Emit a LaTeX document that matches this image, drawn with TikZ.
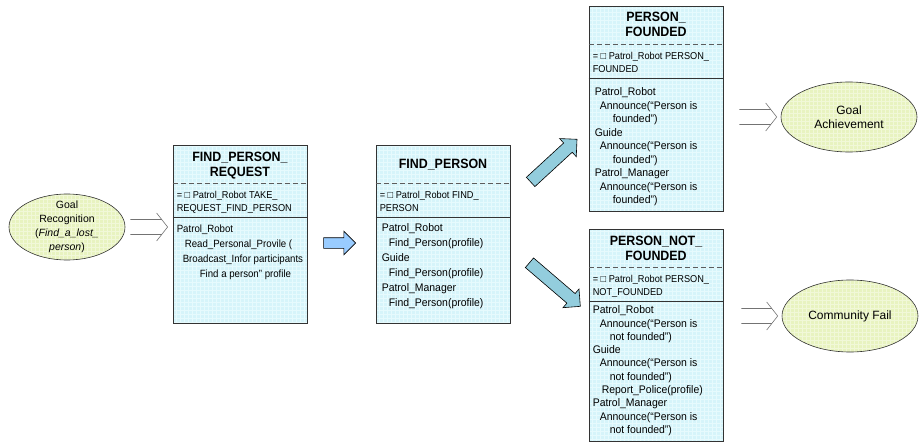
\documentclass[tikz,border=0pt]{standalone}
\usepackage{fontspec}
\setmainfont{Liberation Sans}
\newfontfamily\narrowfont[FakeStretch=0.92]{Liberation Sans}
\newfontfamily\bodyfont[FakeStretch=0.95]{Liberation Sans}
\usepackage{tikz}
\usetikzlibrary{arrows.meta,positioning,calc,shapes.geometric,shapes.arrows}
\definecolor{cellfill}{HTML}{D6F4FA}
\definecolor{cellgrid}{HTML}{E6FAFD}
\definecolor{goalfill}{HTML}{E8F3C0}
\definecolor{goalgrid}{HTML}{F1F8D8}
\definecolor{arrblue}{HTML}{99CCFF}
\definecolor{arrteal}{HTML}{93CDDD}
\definecolor{framegray}{HTML}{333333}
\tikzset{
    state/.style={draw=framegray, fill=cellfill, line width=0.8pt, minimum width=134pt, inner sep=0pt,
        path picture={\draw[cellgrid, line width=0.5pt] (path picture bounding box.south west) grid[step=4pt] (path picture bounding box.north east);}},
    goalnode/.style={ellipse, draw=framegray, fill=goalfill, line width=0.6pt, inner sep=0pt,
        path picture={\draw[goalgrid, line width=0.5pt] (path picture bounding box.south west) grid[step=4pt] (path picture bounding box.north east);}},
    title/.style={font=\narrowfont\fontsize{13.5}{14.5}\selectfont\bfseries, align=center, inner sep=0pt},
    spec/.style={font=\narrowfont\fontsize{10}{13}\selectfont, align=left, anchor=north west, inner sep=0pt},
    body/.style={font=\bodyfont\fontsize{11}{15}\selectfont, align=left, anchor=north west, inner sep=0pt},
    goaltext/.style={font=\fontsize{12}{14}\selectfont, align=center, inner sep=0pt},
    divdash/.style={draw=framegray!80, line width=0.8pt, dash pattern=on 5pt off 3pt},
    divline/.style={draw=framegray, line width=0.6pt},
    blockarr/.style={single arrow, draw=black, line width=0.6pt, inner xsep=0pt, inner ysep=5pt, single arrow head extend=6.5pt},
    hollow/.style={draw=gray!90!black, line width=0.6pt}
}
% open double arrow between two coordinates at the same height
\newcommand{\hollowarr}[2]{%
  \draw[hollow] ($(#1)+(0,-7.5)$) -- ($(#2)+(-6,-7.5)$)
                ($(#1)+(0,7.5)$) -- ($(#2)+(-6,7.5)$)
                ($(#2)+(-11,-14)$) -- (#2) -- ($(#2)+(-11,14)$);}

\begin{document}
\begin{tikzpicture}[x=1pt, y=-1pt]
  \useasboundingbox (0,0) rectangle (922,444);

  % Goal ellipses
  \node[goalnode, minimum width=116pt, minimum height=66pt] (goal) at (67,227) {};
  \node[goaltext, font=\fontsize{10.5}{14}\selectfont] (goal-t) at (goal) {Goal\\Recognition\\(\textit{Find\_a\_lost\_}\\\textit{person})};
  \node[goalnode, minimum width=136pt, minimum height=70pt] (ga) at (849,117) {};
  \node[goaltext] (ga-t) at (ga) {Goal\\Achievement};
  \node[goalnode, minimum width=136pt, minimum height=72pt] (cf) at (850,316) {};
  \node[goaltext] (cf-t) at (cf) {Community Fail};

  % State boxes
  \node[state, minimum height=178pt] (req) at (240,234) {};
  \node[state, minimum height=178pt] (fp) at (443,234) {};
  \node[state, minimum height=205pt] (pf) at (656,108.5) {};
  \node[state, minimum height=212pt] (pnf) at (656,335) {};

  % Dividers
  \foreach \b in {req,fp,pf,pnf} {
    \draw[divdash] ($(\b.north west)+(0,39)$) -- ($(\b.north east)+(0,39)$);
    \draw[divline] ($(\b.north west)+(0,73)$) -- ($(\b.north east)+(0,73)$);
  }

  % FIND_PERSON_REQUEST
  \node[title] (req-t) at ($(req.north)+(0,21)$) {FIND\_PERSON\_\\REQUEST};
  \node[spec] (req-s) at ($(req.north west)+(4,46)$) {= □ Patrol\_Robot TAKE\_\\REQUEST\_FIND\_PERSON};
  \node[body, font=\narrowfont\fontsize{10.5}{15}\selectfont] (req-b) at ($(req.north west)+(4,80)$) {Patrol\_Robot\\\hspace*{8pt}Read\_Personal\_Provile (\\\hspace*{6pt}Broadcast\_Infor participants\\\hspace*{23pt}Find a person” profile};

  % FIND_PERSON
  \node[title] (fp-t) at ($(fp.north)+(0,20)$) {FIND\_PERSON};
  \node[spec] (fp-s) at ($(fp.north west)+(4,46)$) {= □ Patrol\_Robot FIND\_\\PERSON};
  \node[body] (fp-b) at ($(fp.north west)+(6,79)$) {Patrol\_Robot\\\hspace*{7pt}Find\_Person(profile)\\Guide\\\hspace*{7pt}Find\_Person(profile)\\Patrol\_Manager\\\hspace*{7pt}Find\_Person(profile)};

  % PERSON_FOUNDED
  \node[title] (pf-t) at ($(pf.north)+(0,19)$) {PERSON\_\\FOUNDED};
  \node[spec] (pf-s) at ($(pf.north west)+(4,46)$) {= □ Patrol\_Robot PERSON\_\\FOUNDED};
  \node[body, font=\bodyfont\fontsize{11}{13.5}\selectfont] (pf-b) at ($(pf.north west)+(6,82)$) {Patrol\_Robot\\\hspace*{5pt}Announce(“Person is\\\hspace*{18pt}founded”)\\Guide\\\hspace*{5pt}Announce(“Person is\\\hspace*{18pt}founded”)\\Patrol\_Manager\\\hspace*{5pt}Announce(“Person is\\\hspace*{18pt}founded”)};

  % PERSON_NOT_FOUNDED
  \node[title] (pnf-t) at ($(pnf.north)+(0,20)$) {PERSON\_NOT\_\\FOUNDED};
  \node[spec] (pnf-s) at ($(pnf.north west)+(4,46)$) {= □ Patrol\_Robot PERSON\_\\NOT\_FOUNDED};
  \node[body, font=\bodyfont\fontsize{11}{13.3}\selectfont] (pnf-b) at ($(pnf.north west)+(4,77)$) {Patrol\_Robot\\\hspace*{7pt}Announce(“Person is\\\hspace*{17pt}not founded”)\\Guide\\\hspace*{7pt}Announce(“Person is\\\hspace*{17pt}not founded”)\\\hspace*{9pt}Report\_Police(profile)\\Patrol\_Manager\\\hspace*{7pt}Announce(“Person is\\\hspace*{17pt}not founded”)};

  % Block arrows between states
  \coordinate (b1s) at ($(req.east)+(14,9)$);
  \coordinate (b1e) at ($(fp.west)+(-23,9)$);
  \path (b1s) -- (b1e) node[blockarr, fill=arrblue, midway, sloped, minimum height=32pt] (b1) {};
  \coordinate (b2s) at ($(fp.east)+(18,-50)$);
  \coordinate (b2e) at ($(pf.west)+(-14,33)$);
  \path (b2s) -- (b2e) node[blockarr, fill=arrteal, midway, sloped, minimum height=63pt, inner ysep=6pt, single arrow head extend=6pt] (b2) {};
  \coordinate (b3s) at ($(fp.east)+(17,27)$);
  \coordinate (b3e) at ($(pnf.west)+(-11,-31)$);
  \path (b3s) -- (b3e) node[blockarr, fill=arrteal, midway, sloped, minimum height=67pt, inner ysep=6pt, single arrow head extend=6pt] (b3) {};

  % Open double arrows
  \coordinate (h1s) at ($(goal.east)+(5,0)$);
  \coordinate (h1e) at ($(goal.east -| req.west)+(-5,0)$);
  \hollowarr{h1s}{h1e}
  \coordinate (h2s) at ($(ga.west -| pf.east)+(16,0)$);
  \coordinate (h2e) at ($(ga.west)+(-4,0)$);
  \hollowarr{h2s}{h2e}
  \coordinate (h3s) at ($(cf.west -| pnf.east)+(18,0)$);
  \coordinate (h3e) at ($(cf.west)+(-4,0)$);
  \hollowarr{h3s}{h3e}
\end{tikzpicture}
\end{document}
